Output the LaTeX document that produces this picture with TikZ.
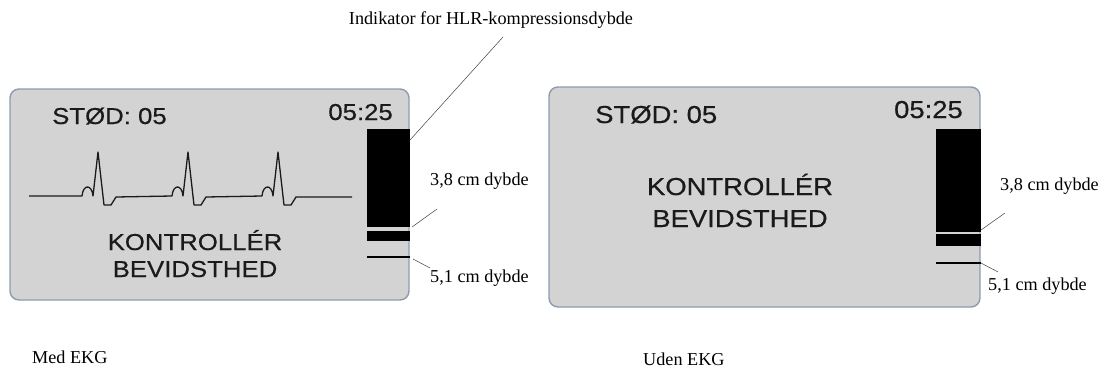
\documentclass[tikz,border=0pt]{standalone}
\usepackage{fontspec}
\setmainfont{Liberation Serif}
\newfontfamily\lcdfont{Liberation Sans}[FakeStretch=1.12,FakeBold=0.5]
\usetikzlibrary{positioning}
\definecolor{lcdbg}{HTML}{D3D3D3}
\definecolor{lcdrim}{HTML}{8D9BAD}
\definecolor{lcdink}{HTML}{1A1A1A}
\definecolor{leadgray}{HTML}{404040}

\begin{document}
\begin{tikzpicture}[
  x=1pt,y=-1pt,
  screen/.style={draw=lcdrim,fill=lcdbg,line width=1.4pt,rounded corners=9pt},
  lcd/.style={font=\lcdfont\fontsize{23}{27}\selectfont,text=lcdink,inner sep=0pt},
  lcdbig/.style={font=\lcdfont\fontsize{24.5}{29}\selectfont,text=lcdink,inner sep=0pt},
  note/.style={font=\fontsize{18.2}{21}\selectfont,inner sep=0pt,anchor=base west},
  leader/.style={draw=leadgray,line width=0.5pt},
  depthbar/.style={fill=black},
  ecg/.style={draw=lcdink,line width=1.3pt,line join=round}
]
\useasboundingbox (0,0) rectangle (1098,367);

\draw[screen] (10,89) rectangle (409,300);
\fill[depthbar] (367,129) rectangle (409.5,227);
\fill[depthbar] (367,231) rectangle (409.5,241);
\draw[line width=2pt] (367,257) -- (409.5,257);
\node[lcd,anchor=base west] (shockL) at (52,124) {STØD: 05};
\node[lcd,anchor=base east] (timeL) at (393,120) {05:25};
\draw[ecg] (29,196) foreach \o in {0,90,180} {
  -- ({82+\o},196) .. controls ({83+\o},184) and ({92+\o},184) .. ({93+\o},196)
  -- ({98+\o},152) -- ({104+\o},205) -- ({111+\o},205) -- ({116+\o},197)
} -- (352,197);
\node[lcd,anchor=base] (checkL) at (195,250) {KONTROLLÉR};
\node[lcd,anchor=base] (consL) at (195,277) {BEVIDSTHED};

\draw[screen] (549,87) rectangle (980,307);
\fill[depthbar] (936,129) rectangle (980.5,232);
\fill[depthbar] (936,234) rectangle (980.5,246);
\draw[line width=2pt] (936,263) -- (980.5,263);
\node[lcdbig,anchor=base west] (shockR) at (595,123) {STØD: 05};
\node[lcdbig,anchor=base east] (timeR) at (963,118) {05:25};
\node[lcdbig,anchor=base] (checkR) at (740,195) {KONTROLLÉR};
\node[lcdbig,anchor=base] (consR) at (740,227) {BEVIDSTHED};

\node[note,anchor=base] (cprnote) at (491,24) {Indikator for HLR-kompressionsdybde};
\coordinate (cprtip) at (503,37);
\coordinate (cprfoot) at (410,140);
\draw[leader] (cprtip) -- (cprfoot);

\node[note] (d38L) at (430,185) {3,8 cm dybde};
\coordinate (d38Ltip) at (437,209);
\coordinate (d38Lfoot) at (412,227);
\draw[leader] (d38Ltip) -- (d38Lfoot);
\node[note] (d51L) at (430,282) {5,1 cm dybde};
\coordinate (d51Lfoot) at (413,259);
\coordinate (d51Ltip) at (430,268);
\draw[leader] (d51Lfoot) -- (d51Ltip);

\node[note] (d38R) at (1000,190) {3,8 cm dybde};
\coordinate (d38Rtip) at (1005,213);
\coordinate (d38Rfoot) at (981,230);
\draw[leader] (d38Rtip) -- (d38Rfoot);
\node[note] (d51R) at (988,290) {5,1 cm dybde};
\coordinate (d51Rfoot) at (981,263);
\coordinate (d51Rtip) at (998,272);
\draw[leader] (d51Rfoot) -- (d51Rtip);

\node[note] (withecg) at (32,363) {Med EKG};
\node[note] (noecg) at (643,365) {Uden EKG};
\end{tikzpicture}
\end{document}
